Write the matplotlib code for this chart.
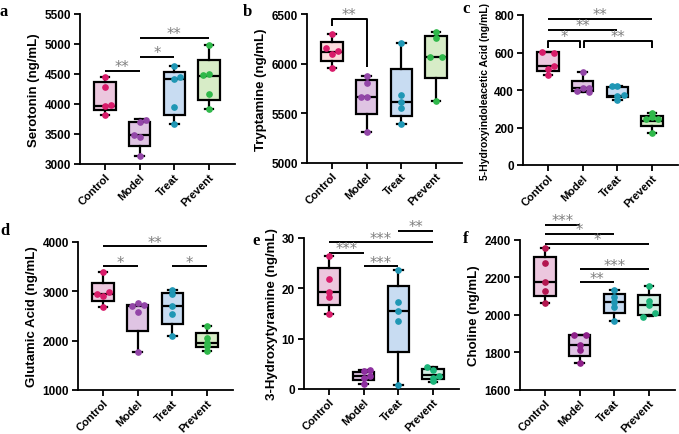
import numpy as np
import matplotlib.pyplot as plt

plt.rcParams['font.family'] = ['Liberation Sans', 'DejaVu Sans']
plt.rcParams['font.weight'] = 'bold'
plt.rcParams['axes.labelweight'] = 'bold'

groups = ['Control', 'Model', 'Treat', 'Prevent']

# box stats: min, q1, median, q3, max
sero_box = [[3817, 3905, 3961, 4361, 4445], [3128, 3294, 3489, 3705, 3750],
            [3667, 3822, 4417, 4528, 4628], [3917, 4067, 4472, 4733, 4989]]
sero_pts = [[4445, 4290, 3960, 3975, 3817], [3740, 3700, 3490, 3445, 3130],
            [4628, 4450, 4417, 3945, 3667], [4989, 4500, 4483, 4167, 3917]]
sero_off = [[0, 0, 0, 0.18, 0], [0.17, 0, -0.17, 0, 0],
            [0, 0.17, 0, 0, 0], [0, 0, -0.17, 0, 0]]
sero_sig = [(0, 1, 4555, '**', 4555, 4555), (1, 2, 4788, '*', 4788, 4788),
            (1, 3, 5100, '**', 5100, 5100)]

tryp_box = [[5956, 6030, 6120, 6221, 6299], [5315, 5493, 5661, 5835, 5879],
            [5393, 5477, 5617, 5946, 6208], [5627, 5853, 6064, 6282, 6316]]
tryp_pts = [[6299, 6155, 6124, 6098, 5956], [5879, 5805, 5661, 5661, 5315],
            [6208, 5688, 5617, 5553, 5393], [6316, 6258, 6064, 6064, 5627]]
tryp_off = [[0, -0.17, 0.17, 0, 0], [0, 0, -0.17, 0, 0],
            [0, 0, 0, 0, 0], [0, 0, -0.17, 0.17, 0]]
tryp_sig = [(0, 1, 6450, '**', 6382, 5963)]

hiaa_box = [[482, 503, 526, 601, 601], [388, 395, 411, 450, 498],
            [347, 361, 368, 418, 420], [171, 210, 235, 262, 277]]
hiaa_pts = [[604, 599, 530, 512, 482], [498, 412, 411, 393, 390],
            [420, 420, 375, 366, 348], [277, 254, 245, 245, 171]]
hiaa_off = [[-0.18, 0.16, 0.16, 0, 0], [0, 0, 0.17, -0.17, 0.17],
            [-0.16, 0, 0.18, 0, 0], [0, 0, -0.17, 0.17, 0]]
hiaa_sig = [(0, 3, 779, '**', 779, 779), (0, 2, 720, '**', 720, 720),
            (0, 0.93, 663, '*', 622, 622), (1.05, 3, 663, '**', 622, 622)]

glu_box = [[2676, 2798, 2946, 3169, 3386], [1764, 2202, 2700, 2720, 2720],
           [2088, 2338, 2696, 2966, 3034], [1797, 1865, 1953, 2155, 2304]]
glu_pts = [[3386, 2980, 2946, 2899, 2676], [2770, 2715, 2700, 2590, 1770],
           [3034, 2946, 2696, 2541, 2088], [2304, 2054, 1953, 1885, 1797]]
glu_off = [[0, 0.17, -0.17, 0, 0], [0, 0.17, -0.17, 0, 0],
           [0, 0, 0, 0, 0], [0, 0, 0, 0, 0]]
glu_sig = [(0, 3, 3912, '**', 3912, 3912), (0, 1, 3507, '*', 3507, 3507),
           (2, 3, 3507, '*', 3507, 3507)]

hyd_box = [[15.0, 16.75, 19.33, 24.04, 26.4], [1.0, 1.79, 2.65, 3.44, 3.78],
           [0.8, 7.35, 15.56, 20.4, 23.7], [1.33, 1.99, 2.84, 3.98, 4.43]]
hyd_pts = [[26.4, 21.85, 19.33, 18.22, 15.0], [3.5, 3.8, 2.65, 2.19, 1.0],
           [23.7, 17.35, 15.56, 13.57, 0.8], [4.43, 3.83, 2.65, 2.19, 1.53]]
hyd_off = [[0, 0, 0, 0, 0], [0, 0.17, 0.17, 0, 0],
           [0, 0, 0, 0, 0], [-0.17, 0, 0.17, 0, 0]]
hyd_sig = [(2, 3, 31.45, '**', 31.45, 31.45), (0, 3, 29.14, '***', 29.14, 29.14),
           (0, 1, 27.02, '***', 27.02, 27.02), (1, 2, 24.4, '***', 24.4, 24.4)]

chol_box = [[2062, 2103, 2174, 2311, 2356], [1742, 1783, 1842, 1893, 1893],
            [1970, 2009, 2071, 2112, 2135], [1993, 2002, 2055, 2108, 2153]]
chol_pts = [[2356, 2276, 2174, 2130, 2062], [1893, 1893, 1842, 1815, 1742],
            [2135, 2098, 2071, 2044, 1970], [2153, 2076, 2053, 2009, 1991]]
chol_off = [[0, 0, 0, 0, 0], [-0.17, 0.17, 0, 0, 0],
            [0, 0, 0, 0, 0], [0, 0, 0, 0.17, -0.17]]
chol_sig = [(0, 1, 2482, '***', 2482, 2482), (0, 2, 2432, '*', 2432, 2432),
            (0, 3, 2379, '*', 2379, 2379), (1, 3, 2245, '***', 2245, 2245),
            (1, 2, 2174, '**', 2174, 2174)]

fill_a = ['#ecc7de', '#dfc4e3', '#c8dcf2', '#d7ecc7']
pcol_a = ['#d81b6a', '#9346a8', '#1f97b5', '#2fb84a']
fill_b = ['#fbdcdc', '#dfc4e3', '#c8dcf2', '#d7ecc7']
fill_e = ['#ecc7de', '#dfc4e3', '#c8dcf2', '#d3efe2']
pcol_e = ['#d81b6a', '#8e2fa0', '#1f97b5', '#1cb57a']
pcol_f = ['#b3164f', '#8e2089', '#1f97b5', '#1cb57a']

fig = plt.figure(figsize=(6.79, 4.35), dpi=100)


def add_ax(left, top, bottom, width=155):
    return fig.add_axes([left / 679, 1 - bottom / 435, width / 679, (bottom - top) / 435])


def draw(ax, box, pts, offs, fills, pcols, ylim, yticks, ylabel, sigs, lfs=9.5):
    stats = [dict(whislo=b[0], q1=b[1], med=b[2], q3=b[3], whishi=b[4], fliers=[])
             for b in box]
    bp = ax.bxp(stats, positions=range(4), widths=0.62, capwidths=0.25,
                patch_artist=True, showfliers=False,
                boxprops=dict(lw=1.6, edgecolor='black'),
                whiskerprops=dict(lw=1.6), capprops=dict(lw=1.6),
                medianprops=dict(color='black', lw=1.6))
    for patch, c in zip(bp['boxes'], fills):
        patch.set_facecolor(c)
    for i in range(4):
        ax.plot(np.full(5, i) + np.array(offs[i]), pts[i], 'o', ms=3.8,
                color=pcols[i], zorder=5, clip_on=False)
    for x1, x2, y, lab, y1, y2 in sigs:
        ax.plot([x1, x1, x2, x2], [y1, y, y, y2], color='black', lw=1.4,
                clip_on=False, solid_capstyle='butt')
        ax.annotate(lab, ((x1 + x2) / 2, y), xytext=(0, -2.5), textcoords='offset points',
                    ha='center', va='bottom', color='#808080', fontsize=10.5,
                    fontweight='normal', family='DejaVu Sans', annotation_clip=False)
    ax.set_xlim(-0.72, 3.75)
    ax.set_ylim(*ylim)
    ax.set_yticks(yticks)
    ax.set_xticks(range(4))
    ax.set_xticklabels(groups, rotation=45, ha='right', rotation_mode='anchor',
                       fontsize=8, fontweight='bold')
    ax.tick_params(axis='y', labelsize=8.5, pad=2.5)
    ax.tick_params(axis='x', pad=1.5)
    ax.tick_params(width=1.3, length=4)
    for s in ['top', 'right']:
        ax.spines[s].set_visible(False)
    for s in ['left', 'bottom']:
        ax.spines[s].set_linewidth(1.3)
    ax.set_ylabel(ylabel, fontsize=lfs, fontweight='bold', labelpad=3)


ax = add_ax(80, 15, 165)
draw(ax, sero_box, sero_pts, sero_off, fill_a, pcol_a, (3000, 5500),
     [3000, 3500, 4000, 4500, 5000, 5500], 'Serotonin (ng/mL)', sero_sig)
ax = add_ax(307, 15, 164)
draw(ax, tryp_box, tryp_pts, tryp_off, fill_b, pcol_a, (5000, 6500),
     [5000, 5500, 6000, 6500], 'Tryptamine (ng/mL)', tryp_sig)
ax = add_ax(523, 16, 166)
draw(ax, hiaa_box, hiaa_pts, hiaa_off, fill_a, pcol_a, (0, 800),
     [0, 200, 400, 600, 800], '5-Hydroxyindoleacetic Acid (ng/mL)', hiaa_sig, lfs=7.5)
ax = add_ax(78, 243, 391)
draw(ax, glu_box, glu_pts, glu_off, fill_a, pcol_a, (1000, 4000),
     [1000, 2000, 3000, 4000], 'Glutamic Acid (ng/mL)', glu_sig)
ax = add_ax(304, 239, 390)
draw(ax, hyd_box, hyd_pts, hyd_off, fill_e, pcol_e, (0, 30),
     [0, 10, 20, 30], '3-Hydroxytyramine (ng/mL)', hyd_sig)
ax = add_ax(520, 241, 391)
draw(ax, chol_box, chol_pts, chol_off, fill_e, pcol_f, (1600, 2400),
     [1600, 1800, 2000, 2200, 2400], 'Choline (ng/mL)', chol_sig)

letters = [('a', 0, 12), ('b', 243, 12), ('c', 462, 9),
           ('d', 0, 231), ('e', 252, 241), ('f', 463, 239)]
for t, x, y in letters:
    fig.text(x / 679, 1 - y / 435, t, family='Liberation Serif', weight='bold',
             fontsize=12, va='center', ha='left')

fig.savefig('out.png', dpi=100)
